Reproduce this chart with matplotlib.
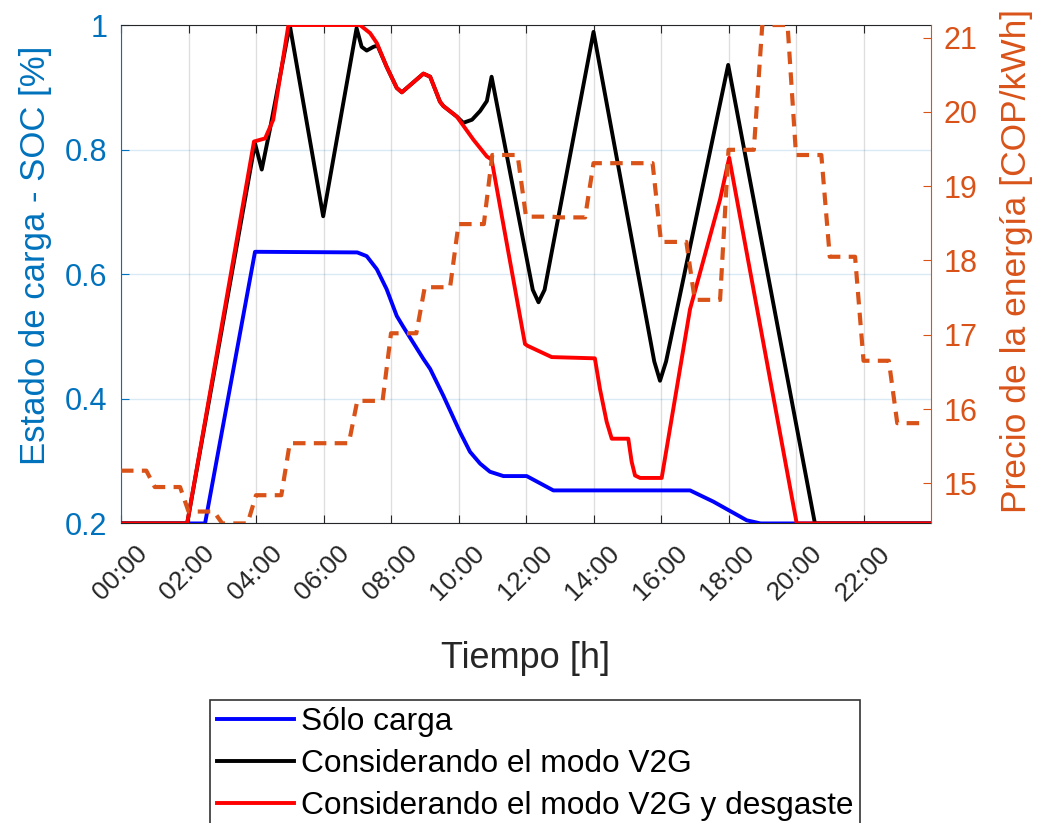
import numpy as np
import matplotlib.pyplot as plt
import matplotlib.transforms as mtransforms

plt.rcParams['font.family'] = ['Liberation Sans', 'DejaVu Sans']

# Precio horario de la energia [COP/kWh], 00:00 ... 23:00
precio_hora = [15.17, 14.95, 14.62, 14.46, 14.84, 15.54, 15.54, 16.11,
               17.02, 17.64, 18.49, 19.42, 18.59, 18.58, 19.31, 19.31,
               18.25, 17.47, 19.49, 21.17, 19.42, 18.05, 16.65, 15.81]

# SOC - solo carga
t_solo = [0, 2.49, 3.97, 7.0, 7.28, 7.58, 7.87, 8.17, 8.37, 8.96, 9.16, 9.55,
          10.04, 10.34, 10.64, 10.93, 11.33, 12.02, 12.81, 16.86, 17.55,
          18.54, 18.95, 24]
soc_solo = [0.2, 0.2, 0.636, 0.635, 0.629, 0.608, 0.576, 0.533, 0.515, 0.464,
            0.448, 0.405, 0.347, 0.315, 0.296, 0.283, 0.276, 0.276, 0.253,
            0.253, 0.235, 0.205, 0.2, 0.2]

# SOC - considerando el modo V2G
t_v2g = [0, 1.96, 3.97, 4.17, 4.41, 5.0, 5.99, 6.98, 7.13, 7.28, 7.48, 7.6,
         7.87, 8.17, 8.32, 8.96, 9.16, 9.45, 9.55, 9.95, 10.14, 10.4, 10.64,
         10.84, 10.98, 12.2, 12.37, 12.55, 14.0, 15.8, 15.97, 16.15, 17.99,
         20.56, 24]
soc_v2g = [0.2, 0.2, 0.81, 0.768, 0.832, 1.0, 0.693, 0.995, 0.965, 0.959,
           0.965, 0.967, 0.933, 0.899, 0.892, 0.922, 0.917, 0.877, 0.87, 0.853,
           0.843, 0.848, 0.862, 0.878, 0.917, 0.575, 0.555, 0.575, 0.989,
           0.46, 0.429, 0.46, 0.936, 0.2, 0.2]

# SOC - considerando el modo V2G y desgaste
t_desg = [0, 1.96, 3.94, 4.27, 4.51, 4.96, 7.08, 7.38, 7.58, 7.87, 8.17, 8.32,
          8.96, 9.16, 9.45, 9.55, 9.95, 10.44, 10.84, 10.98, 11.97, 12.05,
          12.76, 14.04, 14.19, 14.39, 14.54, 15.03, 15.13, 15.23, 15.38, 16.02,
          16.86, 17.75, 18.02, 20.02, 24]
soc_desg = [0.2, 0.2, 0.813, 0.818, 0.848, 1.0, 1.0, 0.987, 0.971, 0.933,
            0.899, 0.892, 0.922, 0.917, 0.877, 0.87, 0.853, 0.816, 0.789,
            0.784, 0.488, 0.485, 0.467, 0.465, 0.416, 0.363, 0.336, 0.336,
            0.299, 0.277, 0.273, 0.273, 0.544, 0.72, 0.787, 0.2, 0.2]

xtick_h = [0, 2, 4, 6, 8, 10, 12, 14, 16, 18, 20, 22]
xtick_lbl = ['00:00', '02:00', '04:00', '06:00', '08:00', '10:00',
             '12:00', '14:00', '16:00', '18:00', '20:00', '22:00']

azul = '#0072BD'
naranja = '#D95319'
gris = '#262626'

# serie de precio en pasos de 15 min
t_precio = np.arange(96) * 0.25
precio = np.repeat(precio_hora, 4)

fig = plt.figure(figsize=(10.37, 8.23), dpi=100)
ax = fig.add_axes([0.1167, 0.364, 0.7811, 0.6056])
ax2 = ax.twinx()

ax.plot(t_solo, soc_solo, color='b', lw=2.8, label='Sólo carga', zorder=3)
ax.plot(t_v2g, soc_v2g, color='k', lw=2.8, label='Considerando el modo V2G', zorder=3)
ax.plot(t_desg, soc_desg, color='r', lw=2.8,
        label='Considerando el modo V2G y desgaste', zorder=3)
ax2.plot(t_precio, precio, color=naranja, lw=3, dashes=(3.0, 2.0))

ax.set_xlim(0, 24)
ax.set_ylim(0.2, 1)
ax2.set_ylim(min(precio_hora), max(precio_hora))

ax.set_xticks(xtick_h)
ax.set_yticks([0.2, 0.4, 0.6, 0.8, 1.0])
ax.set_yticklabels(['0.2', '0.4', '0.6', '0.8', '1'])
ax2.set_yticks([15, 16, 17, 18, 19, 20, 21])

# grilla estilo matlab
ax.xaxis.grid(True, color='#262626', alpha=0.15, lw=1)
ax.yaxis.grid(True, color=azul, alpha=0.15, lw=1)
ax.set_axisbelow(True)

ax.tick_params(axis='x', direction='in', length=6, colors=gris, labelsize=19,
               top=True, pad=13)
ax.tick_params(axis='y', direction='in', length=6, colors=azul, labelsize=22,
               pad=10)
ax2.tick_params(axis='y', direction='in', length=6, colors=naranja, labelsize=22,
                pad=9)

ax.set_xticklabels(xtick_lbl, rotation=45, ha='right', va='top',
                   rotation_mode='anchor')
# correr etiquetas un poco a la derecha (como matlab)
desp = mtransforms.ScaledTranslation(0.14, 0, fig.dpi_scale_trans)
for lbl in ax.get_xticklabels():
    lbl.set_transform(lbl.get_transform() + desp)

ax.spines['left'].set_color(azul)
ax.spines['bottom'].set_color(gris)
ax.spines['top'].set_color(gris)
ax.spines['right'].set_visible(False)
ax2.spines['right'].set_color(naranja)
for s in ['left', 'top', 'bottom']:
    ax2.spines[s].set_visible(False)

ax.set_xlabel('Tiempo [h]', fontsize=26, color=gris, labelpad=26)
ax.set_ylabel('Estado de carga - SOC [%]', fontsize=25, color=azul)
ax.yaxis.set_label_coords(-0.085, 0.537)
ax2.set_ylabel('Precio de la energía [COP/kWh]', fontsize=25.5, color=naranja)
ax2.yaxis.set_label_coords(1.085, 0.527)

leg = fig.legend(loc='upper left', bbox_to_anchor=(0.2025, 0.1495),
                 bbox_transform=fig.transFigure, fontsize=22.8, frameon=True,
                 fancybox=False, handlelength=2.43, handletextpad=0.22,
                 labelspacing=0.38, borderpad=0.22, borderaxespad=0)
leg.get_frame().set_edgecolor('k')
leg.get_frame().set_linewidth(1.2)

fig.savefig('out.png', dpi=100)
